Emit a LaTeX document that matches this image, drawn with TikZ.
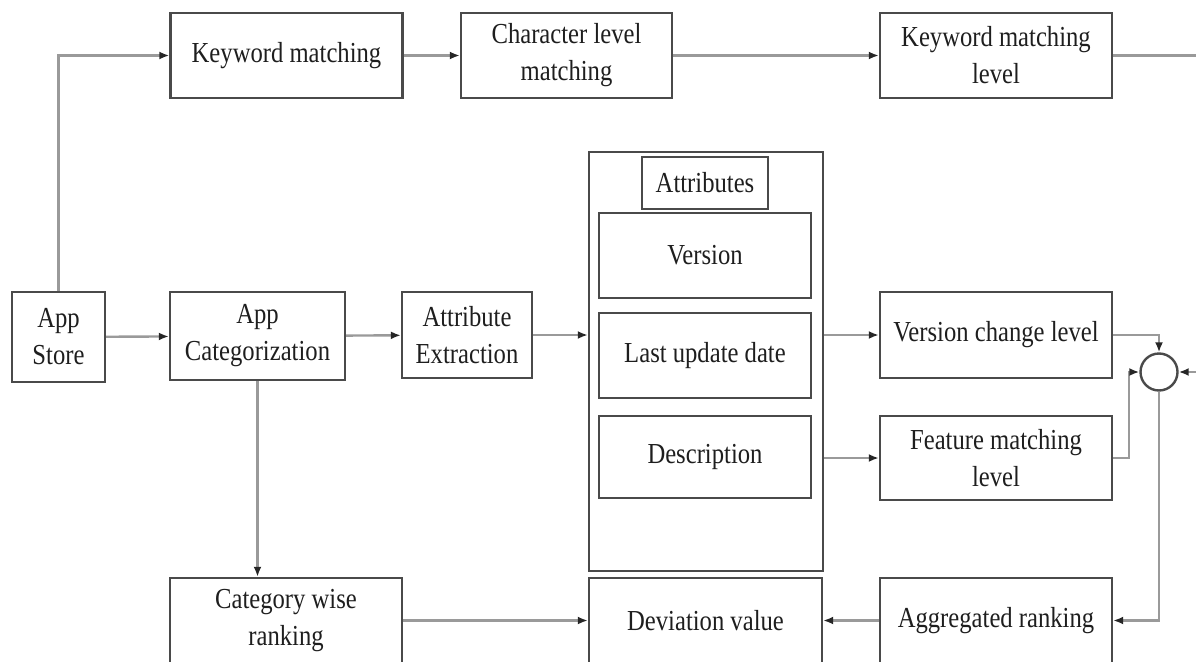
\documentclass[tikz,border=0pt]{standalone}
\usepackage{fontspec}
\setmainfont[FakeStretch=0.85]{Liberation Serif}
\usetikzlibrary{positioning, arrows.meta, calc}
\definecolor{boxgray}{HTML}{4A4A4A}
\definecolor{linegray}{HTML}{9A9A9A}
\definecolor{textgray}{HTML}{1E1E1E}

\begin{document}
\begin{tikzpicture}[
x=1pt, y=-1pt,
    block/.style={rectangle, draw=boxgray, line width=2.4pt, minimum width=232pt, minimum height=85pt, align=center, inner sep=0pt, text=textgray, font=\fontsize{29}{37}\selectfont},
    junction/.style={circle, draw=boxgray, line width=2.4pt, minimum size=37pt, inner sep=0pt},
    line/.style={draw=linegray, line width=2.4pt},
    arrow/.style={line, -{Latex[length=10pt, width=8pt, color=black!85]}}
]

    \useasboundingbox (0,0) rectangle (1196,661);
    \clip (0,0) rectangle (1196,661);

    % ================= TOP ROW =================
    \node[block] (KeyMatch) at (286.5, 55.5) {Keyword matching};
    \node[block, minimum width=211pt] (CharMatch) at (566.5, 55.5) {Character level\\matching};
    \node[block] (KeyLevel) at (996, 55.5) {Keyword matching\\level};

    % ================= MIDDLE ROW =================
    \node[block, minimum width=93pt, minimum height=90pt] (Store) at (58.5, 337) {App\\Store};
    \node[block, minimum width=175pt, minimum height=88pt] (AppCat) at (257.5, 336) {App\\Categorization};
    \node[block, minimum width=130pt, minimum height=86pt] (AttrExt) at (467, 335) {Attribute\\Extraction};

    % Attributes frame
    \node[block, minimum width=234pt, minimum height=419pt] (AttrFrame) at (706, 361.5) {};
    \node[block, minimum width=126pt, minimum height=52pt] (AttrTitle) at (705, 183) {Attributes};
    \node[block, minimum width=212pt] (Version) at (705, 255.5) {Version};
    \node[block, minimum width=212pt] (LastUpd) at (705, 355.5) {Last update date};
    \node[block, minimum width=212pt, minimum height=82pt] (Desc) at (705, 457) {Description};

    \node[block, minimum height=86pt] (VerLevel) at (996, 335) {Version change level};
    \node[block, minimum height=84pt] (FeatLevel) at (996, 458) {Feature matching\\level};
    \node[junction] (Sum) at (1159, 372) {};

    % ================= BOTTOM ROW =================
    \node[block] (CatRank) at (286, 620.5) {Category wise\\ranking};
    \node[block, minimum width=233pt] (DevVal) at (705.5, 620.5) {Deviation value};
    \node[block] (AggRank) at (996, 620.5) {Aggregated ranking};

    \coordinate (Edge) at (1215, 200);

    % ================= CONNECTORS =================
    \draw[arrow] (Store.north) |- (KeyMatch.west);
    \draw[arrow] (KeyMatch) -- (CharMatch);
    \draw[arrow] (CharMatch) -- (KeyLevel);
    \draw[arrow] (KeyLevel.east) -| (Edge) |- (Sum.east);

    \draw[arrow] (Store) -- (AppCat);
    \draw[arrow] (AppCat) -- (AttrExt);
    \draw[arrow] (AttrExt.east) -- (AttrFrame.west |- AttrExt.east);
    \draw[arrow] (AttrFrame.east |- VerLevel.west) -- (VerLevel.west);
    \draw[arrow] (AttrFrame.east |- FeatLevel.west) -- (FeatLevel.west);

    \draw[arrow] (VerLevel.east) -| (Sum.north);
    \draw[arrow] (FeatLevel.east) -- ++(16,0) |- (Sum.west);
    \draw[arrow] (Sum.south) |- (AggRank.east);

    \draw[arrow] (AggRank) -- (DevVal);
    \draw[arrow] (CatRank) -- (DevVal);
    \draw[arrow] (AppCat.south) -- (AppCat.south |- CatRank.north);

\end{tikzpicture}
\end{document}
